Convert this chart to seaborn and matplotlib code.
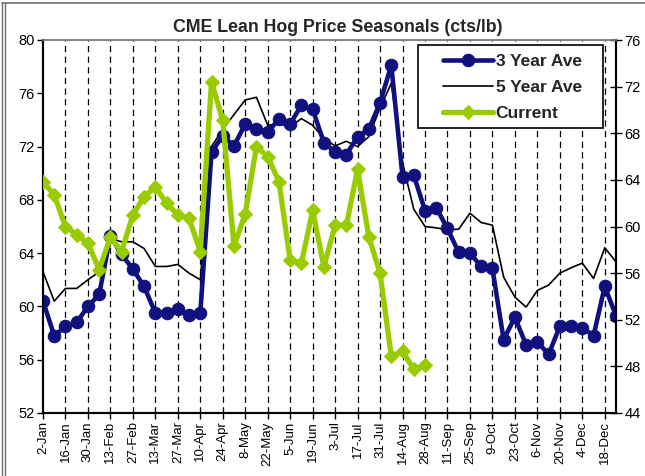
import matplotlib
matplotlib.use("Agg")
import matplotlib.pyplot as plt
from matplotlib.patches import Rectangle
from matplotlib.lines import Line2D
import seaborn as sns
import pandas as pd
import numpy as np

# ---------------- data ----------------
week_labels = ["2-Jan", "16-Jan", "30-Jan", "13-Feb", "27-Feb", "13-Mar", "27-Mar",
               "10-Apr", "24-Apr", "8-May", "22-May", "5-Jun", "19-Jun", "3-Jul",
               "17-Jul", "31-Jul", "14-Aug", "28-Aug", "11-Sep", "25-Sep", "9-Oct",
               "23-Oct", "6-Nov", "20-Nov", "4-Dec", "18-Dec"]

three_year_ave = [60.4, 57.8, 58.5, 58.8, 60.0, 60.9, 65.3, 63.9, 62.8, 61.5,
                  59.5, 59.5, 59.8, 59.35, 59.5, 71.6, 72.8, 72.05, 73.7, 73.35,
                  73.1, 74.05, 73.7, 75.1, 74.8, 72.3, 71.6, 71.4, 72.75, 73.3,
                  75.3, 78.1, 69.75, 69.85, 67.2, 67.4, 65.85, 64.05, 64.0, 63.0,
                  62.85, 57.5, 59.2, 57.1, 57.35, 56.4, 58.5, 58.5, 58.4, 57.8,
                  61.5, 59.3]

five_year_ave = [62.6, 60.4, 61.35, 61.35, 62.0, 62.6, 65.1, 64.85, 64.85, 64.35,
                 63.0, 63.0, 63.15, 62.5, 62.0, 72.0, 73.3, 74.4, 75.5, 75.7,
                 73.6, 73.7, 73.5, 74.1, 73.6, 72.6, 72.05, 72.4, 72.0, 72.75,
                 74.9, 76.75, 70.8, 67.3, 66.0, 65.9, 65.75, 65.8, 67.0, 66.3,
                 66.1, 62.2, 60.7, 59.95, 61.2, 61.6, 62.5, 62.9, 63.25, 62.1,
                 64.4, 63.35]

current = [63.85, 62.7, 60.0, 59.3, 58.55, 56.3, 59.1, 57.85, 61.0, 62.55,
           63.4, 62.0, 61.0, 60.7, 57.85, 72.4, 69.1, 58.3, 61.1, 66.85,
           66.0, 63.85, 57.1, 56.85, 61.4, 56.55, 60.1, 60.1, 64.9, 59.1,
           56.0, 48.85, 49.3, 47.75, 48.1]

weeks = list(range(len(three_year_ave)))
df = pd.DataFrame({
    "week": weeks,
    "3 Year Ave": three_year_ave,
    "5 Year Ave": five_year_ave,
    "Current": current + [np.nan] * (len(weeks) - len(current)),
})

BLUE = "#10107f"
GREEN = "#99cc00"

# ---------------- figure ----------------
sns.set_style("ticks")
plt.rcParams["font.family"] = ["Liberation Sans", "DejaVu Sans"]

W, H = 645, 476
fig = plt.figure(figsize=(W / 100, H / 100), dpi=100)
L, R, T, B = 43, 616, 40, 413
ax = fig.add_axes([L / W, 1 - B / H, (R - L) / W, (B - T) / H])
ax2 = ax.twinx()

tick_pos = list(range(0, len(weeks), 2))

# dashed vertical gridlines
for x in tick_pos[1:]:
    ax.axvline(x, color="black", lw=0.9, ls=(0, (5, 3.5)), zorder=1)

sns.lineplot(data=df, x="week", y="3 Year Ave", ax=ax, color=BLUE, lw=3.3,
             marker="o", markersize=9, markeredgecolor=BLUE,
             markerfacecolor=BLUE, label="3 Year Ave", zorder=3)
sns.lineplot(data=df, x="week", y="5 Year Ave", ax=ax, color="black", lw=1.2,
             label="5 Year Ave", zorder=2)
sns.lineplot(data=df.dropna(), x="week", y="Current", ax=ax2, color=GREEN, lw=3.8,
             marker="D", markersize=7.5, markeredgecolor=GREEN,
             markerfacecolor=GREEN, label="Current", zorder=3)

h1, l1 = ax.get_legend_handles_labels()
h2, l2 = ax2.get_legend_handles_labels()
if ax.get_legend():
    ax.get_legend().remove()
if ax2.get_legend():
    ax2.get_legend().remove()

ax.set_xlim(0, len(weeks) - 1)
ax.set_ylim(52, 80)
ax.set_yticks(range(52, 81, 4))
ax2.set_ylim(44, 76)
ax2.set_yticks(range(44, 77, 4))
ax.set_xticks(tick_pos)
ax.set_xticklabels(week_labels, rotation=90)
ax.set_xlabel("")
ax.set_ylabel("")
ax2.set_ylabel("")

ax.tick_params(axis="y", direction="out", length=4, width=1, labelsize=10.5,
               colors="black", pad=2)
ax.tick_params(axis="x", direction="out", length=4, width=1, labelsize=9.5,
               colors="black", pad=2)
ax2.tick_params(axis="y", direction="inout", length=8, width=1, labelsize=10.5,
                colors="black", pad=2)

for a in (ax, ax2):
    for s in ("left", "bottom", "right"):
        a.spines[s].set_color("black")
        a.spines[s].set_linewidth(1.5)
        a.spines[s].set_visible(True)
    a.spines["top"].set_visible(True)
    a.spines["top"].set_color("#808080")
    a.spines["top"].set_linewidth(1.2)

# legend box
bx0, bx1 = (418 - L) / (R - L), (603 - L) / (R - L)
by1, by0 = (B - 45) / (B - T), (B - 128) / (B - T)
ax2.add_patch(Rectangle((bx0, by0), bx1 - bx0, by1 - by0, transform=ax2.transAxes,
                        facecolor="white", edgecolor="black", lw=1.2,
                        zorder=8, clip_on=False))
leg = ax2.legend(h1 + h2, l1 + l2, loc="center",
                 bbox_to_anchor=((bx0 + bx1) / 2 + 0.003, (by0 + by1) / 2 - 0.003),
                 frameon=False, prop={"weight": "bold", "size": 12.5},
                 handlelength=2.9, handletextpad=0.15, labelspacing=0.62,
                 borderpad=0.2)
leg.set_zorder(9)

fig.text(0.523, 1 - 27.5 / H, "CME Lean Hog Price Seasonals (cts/lb)",
         ha="center", va="center", fontsize=12.8, fontweight="bold")

# outer frame of the chart object
for xx in (1.5 / W, 5 / W):
    fig.lines.append(Line2D([xx, xx], [0, 1 - 3 / H], transform=fig.transFigure,
                            color="#707070", lw=1.0))
fig.lines.append(Line2D([1.5 / W, 1], [1 - 3 / H, 1 - 3 / H],
                        transform=fig.transFigure, color="#707070", lw=1.2))

fig.savefig("out.png", dpi=100)
